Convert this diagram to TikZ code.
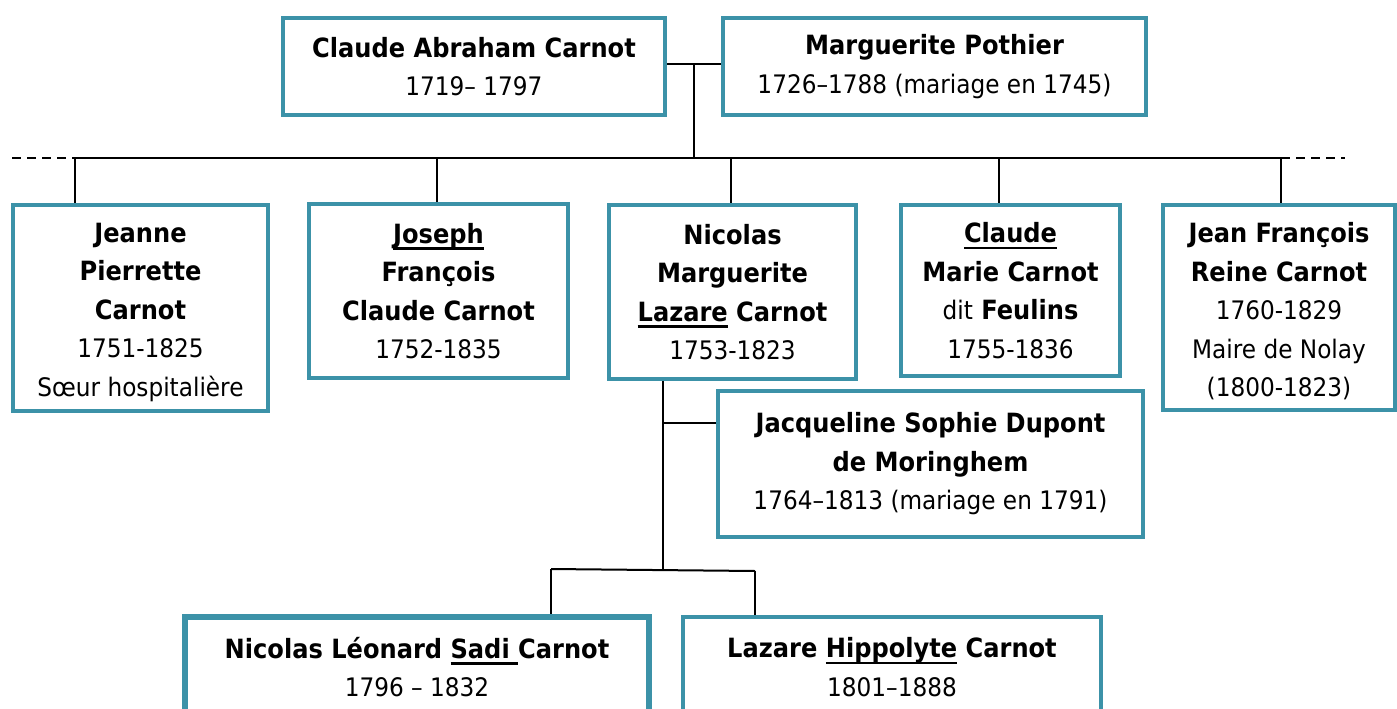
\documentclass[tikz,border=0pt]{standalone}
\usepackage{fontspec}
\setmainfont{DejaVu Sans}[FakeStretch=0.91]
\usetikzlibrary{backgrounds}
\definecolor{tealbox}{RGB}{60,146,168}
\newcommand{\rg}[1]{{\mdseries\fontsize{25.5}{38.5}\selectfont #1}}
\newsavebox{\myulbox}
\newcommand{\myul}[1]{\sbox{\myulbox}{#1}\rlap{\rule[-6.5pt]{\wd\myulbox}{2.6pt}}\usebox{\myulbox}}
\newcommand{\topstrut}{\rule{0pt}{28pt}}
\begin{document}
\begin{tikzpicture}[x=1pt,y=-1pt,
  box/.style={draw=tealbox, line width=4pt, fill=white, align=center, inner sep=0pt,
    font=\fontsize{26.5}{38.5}\selectfont\bfseries},
  link/.style={draw=black, line width=2pt},
  dashlink/.style={draw=black, line width=2pt, dash pattern=on 9pt off 6pt}]
\useasboundingbox (0,0) rectangle (1397,709);
% parents
\node[box, minimum width=382pt, minimum height=97pt] (A) at (474,66.5)
  {Claude Abraham Carnot\\\rg{1719– 1797}};
\node[box, minimum width=423pt, minimum height=97pt] (B) at (934.5,66.5)
  {Marguerite Pothier\\\rg{1726–1788 (mariage en 1745)}};
% children
\node[box, minimum width=255pt, minimum height=206pt] (C1) at (140.5,308)
  {\topstrut Jeanne\\Pierrette\\Carnot\\\rg{1751-1825}\\\rg{Sœur hospitalière}};
\node[box, minimum width=259pt, minimum height=174pt] (C2) at (438.5,291)
  {\myul{Joseph}\\François\\Claude Carnot\\\rg{1752-1835}};
\node[box, minimum width=247pt, minimum height=174pt] (C3) at (732.5,292)
  {Nicolas\\Marguerite\\\myul{Lazare} Carnot\\\rg{1753-1823}};
\node[box, minimum width=219pt, minimum height=171pt] (C4) at (1010.5,290.5)
  {\myul{Claude}\\Marie Carnot\\\rg{dit} Feulins\\\rg{1755-1836}};
\node[box, minimum width=232pt, minimum height=205pt] (C5) at (1279,307.5)
  {\topstrut Jean François\\Reine Carnot\\\rg{1760-1829}\\\rg{Maire de Nolay}\\\rg{(1800-1823)}};
% spouse of Lazare
\node[box, minimum width=425pt, minimum height=146pt] (D) at (930.5,464)
  {Jacqueline Sophie Dupont\\de Moringhem\\\rg{1764–1813 (mariage en 1791)}};
% grandchildren
\node[box, line width=5.5pt, minimum width=464pt, minimum height=100pt] (E1) at (417,667)
  {Nicolas Léonard \myul{Sadi\ }Carnot\\\rg{1796 – 1832}};
\node[box, minimum width=418pt, minimum height=100pt] (E2) at (892,667)
  {Lazare \myul{Hippolyte} Carnot\\\rg{1801–1888}};
% connectors
\begin{scope}[on background layer]
\coordinate (m) at (694,64);
\coordinate (bar) at (694,158);
\coordinate (dl) at (12,158);
\coordinate (dr) at (1345,158);
\coordinate (d1) at (75,158);
\coordinate (d2) at (437,158);
\coordinate (d3) at (731,158);
\coordinate (d4) at (999,158);
\coordinate (d5) at (1281,158);
\draw[link] (A.east |- m) -- (B.west |- m);
\draw[link] (m) -- (bar);
\draw[link] (d1) -- (d5);
\draw[dashlink] (dl) -- (d1);
\draw[dashlink] (d5) -- (dr);
\draw[link] (d1) -- (C1.north -| d1);
\draw[link] (d2) -- (C2.north -| d2);
\draw[link] (d3) -- (C3.north -| d3);
\draw[link] (d4) -- (C4.north -| d4);
\draw[link] (d5) -- (C5.north -| d5);
\coordinate (n1) at (663,423);
\coordinate (n2) at (663,570);
\draw[link] (C3.south -| n1) -- (n2);
\draw[link] (n1) -- (D.west |- n1);
\coordinate (k1) at (551,569);
\coordinate (k2) at (755,571);
\draw[link] (k1) -- (k2);
\draw[link] (k1) -- (E1.north -| k1);
\draw[link] (k2) -- (E2.north -| k2);
\end{scope}
\end{tikzpicture}
\end{document}
